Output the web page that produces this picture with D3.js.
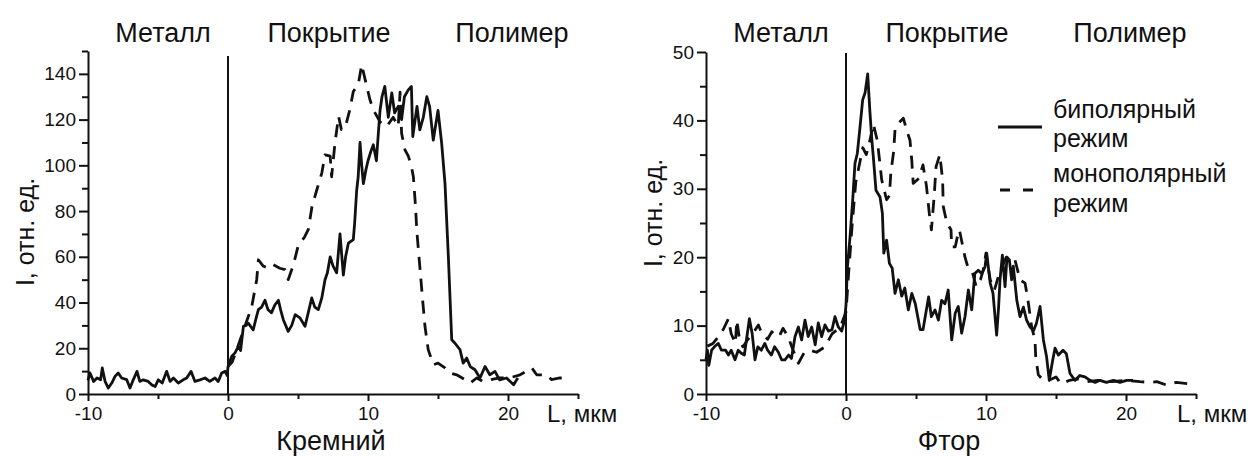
<!DOCTYPE html>
<html>
<head>
<meta charset="utf-8">
<script src="https://cdn.jsdelivr.net/npm/d3@7"></script>
<style>
  body { margin: 0; background: #fff; }
  svg { font-family: "Liberation Sans", Arial, sans-serif; }
</style>
</head>
<body>
<div id="chart"></div>
<script>
// [L (мкм), I (отн. ед.)]
var siliconBipolar = [
  [-10, 6], [-9.86, 9.2], [-9.6, 5.5], [-9.36, 7], [-9.1, 6.2], [-8.98, 11.4], [-8.78, 5.5], [-8.55, 2.6],
  [-8.3, 4.8], [-8.07, 7.7], [-7.84, 9.2], [-7.6, 7], [-7.24, 6.3], [-7.0, 2.6], [-6.76, 6.3], [-6.5, 9.9],
  [-6.3, 5.5], [-6.05, 6.2], [-5.7, 5.5], [-5.45, 4], [-5.2, 3.3], [-4.98, 6.2], [-4.7, 4.8], [-4.38, 9.9],
  [-4.14, 5.5], [-3.9, 7], [-3.55, 4.8], [-3.2, 6.2], [-2.95, 7], [-2.64, 9.9], [-2.36, 5.5], [-2.0, 6.2],
  [-1.64, 7], [-1.3, 5.5], [-0.93, 7], [-0.7, 5.5], [-0.45, 9.2], [-0.2, 9.9], [-0.05, 8], [0, 12],
  [0.26, 16.4], [0.5, 18], [0.74, 20.8], [0.9, 19], [1.1, 29.6], [1.3, 30], [1.45, 31], [1.8, 28], [2.0, 33],
  [2.17, 36.9], [2.4, 38], [2.64, 41], [2.85, 37], [3.1, 35.5], [3.35, 39], [3.6, 41], [3.75, 37], [3.95, 32.5],
  [4.3, 27.4], [4.55, 30], [4.8, 34.7], [5.14, 33.3], [5.5, 29.6], [5.75, 36], [5.98, 42], [6.2, 38],
  [6.45, 36.9], [6.7, 42], [6.93, 50], [7.1, 53], [7.3, 60], [7.5, 56], [7.76, 53], [8.0, 70], [8.24, 52],
  [8.4, 60], [8.6, 66], [8.95, 67.5], [9.05, 75], [9.19, 89], [9.3, 95], [9.43, 110], [9.55, 100], [9.67, 92],
  [9.85, 98], [10.0, 102], [10.2, 106], [10.38, 109], [10.6, 102], [10.75, 115], [10.86, 124], [11.0, 130],
  [11.2, 134.5], [11.45, 121], [11.7, 131.7], [11.9, 123], [12.16, 125.8], [12.4, 120], [12.6, 130],
  [12.88, 133], [13.1, 134.5], [13.2, 112.6], [13.5, 125.8], [13.7, 115.5], [13.95, 121], [14.2, 130],
  [14.4, 125.8], [14.66, 111], [15.0, 124], [15.26, 109.7], [15.5, 92], [15.74, 60], [15.98, 23.7],
  [16.2, 22.3], [16.57, 19.4], [16.8, 13.5], [17.05, 15.7], [17.3, 12], [17.64, 10.6], [18.0, 7],
  [18.36, 12], [18.7, 8.4], [19.07, 9.9], [19.4, 6.2], [19.9, 7], [20.4, 4], [20.7, 7]
];
var siliconMonopolar = [
  [0, 12], [0.3, 14], [0.6, 19], [1.0, 26], [1.4, 33], [1.7, 38.3], [2.05, 50], [2.17, 58.7], [2.5, 56],
  [2.88, 55], [3.24, 56.5], [3.7, 55], [4.07, 54.4], [4.3, 50], [4.67, 56.5], [5.0, 64.5], [5.5, 69],
  [5.74, 72], [6.0, 82], [6.33, 89], [6.7, 96.6], [6.93, 104.6], [7.3, 104], [7.4, 95], [7.64, 109.7],
  [7.9, 121.4], [8.1, 115.6], [8.36, 116.3], [8.7, 124.3], [8.95, 132.3], [9.3, 135.2], [9.55, 144],
  [9.8, 137.4], [10.14, 128.7], [10.38, 124.3], [10.86, 119], [11.33, 117], [11.8, 121], [12.16, 117],
  [12.29, 132], [12.4, 114], [12.64, 106.8], [12.88, 104], [13.1, 99.5], [13.24, 95], [13.36, 85],
  [13.5, 70.4], [13.7, 55.8], [13.9, 41.2], [14.07, 29.6], [14.3, 19.4], [14.67, 12.8], [15.0, 13.5],
  [15.5, 11.4], [15.86, 9.2], [16.33, 8.4], [16.93, 6.3], [17.3, 4.8], [17.76, 7], [18.2, 5.5], [18.7, 6.2],
  [19.4, 7], [20.1, 7], [20.86, 8.4], [21.3, 9.9], [21.7, 11.4], [22.05, 8.4], [22.76, 8.4], [23.1, 6.3],
  [23.7, 7], [24.3, 7]
];
var fluorineBipolar = [
  [-10, 5], [-9.9, 6.4], [-9.8, 4.2], [-9.6, 6.4], [-9.4, 6.9], [-9.12, 7.4], [-8.9, 6.4], [-8.6, 6.4],
  [-8.4, 5.7], [-8.2, 6.4], [-7.93, 5], [-7.7, 6.4], [-7.5, 6], [-7.26, 5.7], [-6.9, 11], [-6.7, 8.8],
  [-6.5, 5], [-6.3, 6.9], [-6.05, 6.4], [-5.8, 7.4], [-5.6, 6.4], [-5.33, 5.7], [-5.1, 6.9], [-4.83, 6.1],
  [-4.6, 5], [-4.36, 5], [-4.1, 5.7], [-3.9, 5.2], [-3.64, 8.4], [-3.4, 9.8], [-3.17, 7.9], [-2.93, 10.8],
  [-2.7, 8.4], [-2.45, 9.8], [-2.2, 7.2], [-1.98, 10.4], [-1.74, 8.4], [-1.5, 10.1], [-1.26, 9.2],
  [-1.0, 9.4], [-0.79, 11.3], [-0.55, 9.8], [-0.31, 9.2], [-0.1, 10.8], [0, 13], [0.1, 18.6], [0.29, 23],
  [0.48, 28.4], [0.64, 33.7], [0.81, 35.2], [1.0, 39], [1.19, 43], [1.36, 44], [1.55, 46.8], [1.7, 41.5],
  [1.83, 37.6], [1.95, 34.7], [2.14, 29.8], [2.43, 28.8], [2.6, 26.4], [2.7, 20.6], [2.9, 22.5], [3.1, 19.1],
  [3.3, 18.4], [3.5, 14.7], [3.74, 16.7], [3.98, 14.3], [4.2, 15.5], [4.45, 12.3], [4.7, 14.7], [4.95, 13.2],
  [5.3, 9.4], [5.5, 9.4], [5.9, 14.2], [6.1, 11.3], [6.36, 12.3], [6.6, 10.8], [6.83, 13.7], [7.07, 13.2],
  [7.3, 15.2], [7.55, 7.9], [7.8, 11.8], [8.02, 12.8], [8.26, 8.9], [8.5, 11.3], [8.74, 15.2], [8.98, 12.3],
  [9.2, 17.6], [9.45, 18.1], [9.69, 17.6], [9.93, 18.6], [10.05, 20.6], [10.3, 16.2], [10.5, 14.7],
  [10.76, 8.6], [10.9, 12.7], [11.0, 16.7], [11.17, 20.3], [11.36, 15.7], [11.5, 20], [11.67, 19.6],
  [11.83, 16.7], [11.95, 18.7], [12.2, 13.7], [12.43, 11.3], [12.67, 12.7], [12.9, 10.8], [13.14, 9.8],
  [13.4, 9.3], [13.6, 10.3], [13.86, 12.8], [14.1, 7.9], [14.33, 5.4], [14.52, 2], [14.76, 4.9],
  [14.93, 6.7], [15.17, 5.7], [15.5, 6.4], [15.74, 5.9], [16.0, 3], [16.36, 2], [16.7, 2.7], [17.07, 2.5],
  [17.43, 2], [17.8, 1.7], [18.14, 2], [18.6, 1.7], [19.1, 2], [19.57, 1.7], [20.05, 2], [20.5, 2]
];
var fluorineMonopolar = [
  [-9.9, 7], [-9.5, 7.4], [-9.1, 8.4], [-8.75, 9.5], [-8.4, 11], [-8.2, 8.8], [-7.9, 7.4], [-7.8, 10.8],
  [-7.6, 7.9], [-7.36, 6.9], [-7.0, 8], [-6.6, 9], [-6.26, 10.1], [-6.0, 8.8], [-5.6, 8], [-5.3, 9.1],
  [-5.0, 8.4], [-4.75, 8.5], [-4.5, 9.6], [-4.14, 8.4], [-3.8, 6.5], [-3.4, 4.5], [-3.0, 6], [-2.6, 6.4],
  [-2.1, 6.1], [-1.5, 6.9], [-1.0, 8.8], [-0.4, 9.8], [0, 12], [0.2, 18], [0.45, 25], [0.7, 31], [1.0, 34],
  [1.2, 36], [1.45, 35], [1.7, 37], [1.95, 39.5], [2.24, 37], [2.4, 34.1], [2.55, 31.3], [2.9, 28.4],
  [3.1, 29], [3.2, 32.3], [3.4, 35.4], [3.5, 38.6], [3.74, 39.6], [4.1, 40.3], [4.3, 38.8], [4.57, 37.1],
  [4.7, 34.1], [4.8, 30.8], [5.2, 31.5], [5.5, 33.5], [5.74, 30.5], [5.95, 26.4], [6.1, 24], [6.3, 29],
  [6.43, 33.2], [6.7, 35], [6.9, 31.3], [6.95, 27.4], [7.2, 25], [7.5, 24], [7.55, 21.5], [7.8, 21.5],
  [8.0, 23.4], [8.1, 24], [8.4, 21], [8.5, 20], [8.7, 18.6], [9.0, 18], [9.3, 15.7], [9.6, 16.7], [9.8, 18.1],
  [10.0, 20.6], [10.3, 16.7], [10.6, 15.2], [11.0, 18], [11.45, 20], [12.07, 19.6], [12.43, 16.7],
  [12.79, 16.2], [13.0, 13.7], [13.26, 9.8], [13.5, 7.9], [13.55, 5.4], [13.74, 2.8], [14.1, 2], [14.5, 2],
  [15.0, 2.5], [15.36, 1.5], [15.98, 2], [16.5, 2.2], [17.2, 1.8], [18, 2], [19, 1.8], [20, 2], [21, 1.8],
  [21.7, 1.7], [22.2, 1.8], [22.9, 1.3], [23.6, 1.7], [24.5, 1.5]
];

var xDomain = [-10, 25];
var xMajorTicks = [-10, 0, 10, 20];
var xMinorTicks = [-5, 5, 15, 25];
var siliconYMajor = [0, 20, 40, 60, 80, 100, 120, 140];
var siliconYMinor = [10, 30, 50, 70, 90, 110, 130, 150];
var fluorineYMajor = [0, 10, 20, 30, 40, 50];
var fluorineYMinor = [5, 15, 25, 35, 45];
var regionNames = ["Металл", "Покрытие", "Полимер"];
var legendNames = [["биполярный", "режим"], ["монополярный", "режим"]];

var svg = d3.select("#chart").append("svg")
    .attr("width", 1252)
    .attr("height", 457);

var ink = "#111";
var dash = "13,9";
var plain = function(d){ return String(d); };   // keep "-10" with a hyphen

function drawPanel(p) {
  var x = d3.scaleLinear().domain(xDomain).range([p.left, p.left + 490]);
  var y = d3.scaleLinear().domain([0, p.yMax]).range([394, p.top]);
  var g = svg.append("g");

  // axes
  g.append("g").attr("transform", "translate(0,394)")
    .call(d3.axisBottom(x).tickValues(xMajorTicks).tickFormat(plain).tickSize(7).tickPadding(6).tickSizeOuter(0));
  g.append("g").attr("transform", "translate(0,394)")
    .call(d3.axisBottom(x).tickValues(xMinorTicks).tickSize(5).tickFormat("").tickSizeOuter(0))
    .select(".domain").remove();
  g.append("g").attr("transform", "translate(" + p.left + ",0)")
    .call(d3.axisLeft(y).tickValues(p.yMajor).tickFormat(plain).tickSize(9).tickPadding(3).tickSizeOuter(0));
  g.append("g").attr("transform", "translate(" + p.left + ",0)")
    .call(d3.axisLeft(y).tickValues(p.yMinor).tickSize(6).tickFormat("").tickSizeOuter(0))
    .select(".domain").remove();
  g.selectAll(".domain, .tick line").attr("stroke", ink).attr("stroke-width", 2);
  g.selectAll(".tick text").attr("fill", ink).attr("font-size", 19)
    .attr("font-family", "'Liberation Sans', Arial, sans-serif");

  // boundary metal / coating
  g.append("line")
    .attr("x1", x(0)).attr("x2", x(0))
    .attr("y1", p.top + p.zeroTop).attr("y2", 394)
    .attr("stroke", ink).attr("stroke-width", 2);

  var line = d3.line().x(function(d){ return x(d[0]); }).y(function(d){ return y(d[1]); });

  g.append("path").datum(p.mono)
    .attr("d", line).attr("fill", "none").attr("stroke", ink)
    .attr("stroke-width", 2.8).attr("stroke-dasharray", dash).attr("stroke-linejoin", "round");
  g.append("path").datum(p.bi)
    .attr("d", line).attr("fill", "none").attr("stroke", ink)
    .attr("stroke-width", 2.8).attr("stroke-linejoin", "round");

  // region titles
  var titleX = [75, 241, 424];
  regionNames.forEach(function(t, i){
    g.append("text").attr("x", p.left + titleX[i]).attr("y", 42)
      .attr("text-anchor", "middle").attr("font-size", 27).attr("fill", ink).text(t);
  });
  g.append("text").attr("x", p.left + 243).attr("y", 450)
    .attr("text-anchor", "middle").attr("font-size", 27).attr("fill", ink).text(p.element);
  g.append("text").attr("x", p.lLabel).attr("y", 422)
    .attr("font-size", 24).attr("fill", ink).text("L, мкм");
  g.append("text")
    .attr("transform", "translate(" + p.iLabel[0] + "," + p.iLabel[1] + ") rotate(-90)")
    .attr("text-anchor", "middle").attr("font-size", 25).attr("fill", ink).text("I, отн. ед.");
}

drawPanel({left: 88, top: 51, yMax: 150, yMajor: siliconYMajor, yMinor: siliconYMinor, zeroTop: 5,
  bi: siliconBipolar, mono: siliconMonopolar, element: "Кремний", lLabel: 547, iLabel: [34, 232]});
drawPanel({left: 706, top: 52, yMax: 50, yMajor: fluorineYMajor, yMinor: fluorineYMinor, zeroTop: 1,
  bi: fluorineBipolar, mono: fluorineMonopolar, element: "Фтор", lLabel: 1177, iLabel: [662, 213]});

// legend
var lg = svg.append("g");
lg.append("line").attr("x1", 998).attr("x2", 1042).attr("y1", 127).attr("y2", 127)
  .attr("stroke", ink).attr("stroke-width", 2.8);
lg.append("line").attr("x1", 1000).attr("x2", 1034).attr("y1", 190).attr("y2", 190)
  .attr("stroke", ink).attr("stroke-width", 2.8).attr("stroke-dasharray", "10,13");
[[118, 147], [182, 212]].forEach(function(ys, i){
  ys.forEach(function(yy, j){
    lg.append("text").attr("x", 1053).attr("y", yy).attr("font-size", 25).attr("fill", ink)
      .text(legendNames[i][j]);
  });
});
</script>
</body>
</html>
